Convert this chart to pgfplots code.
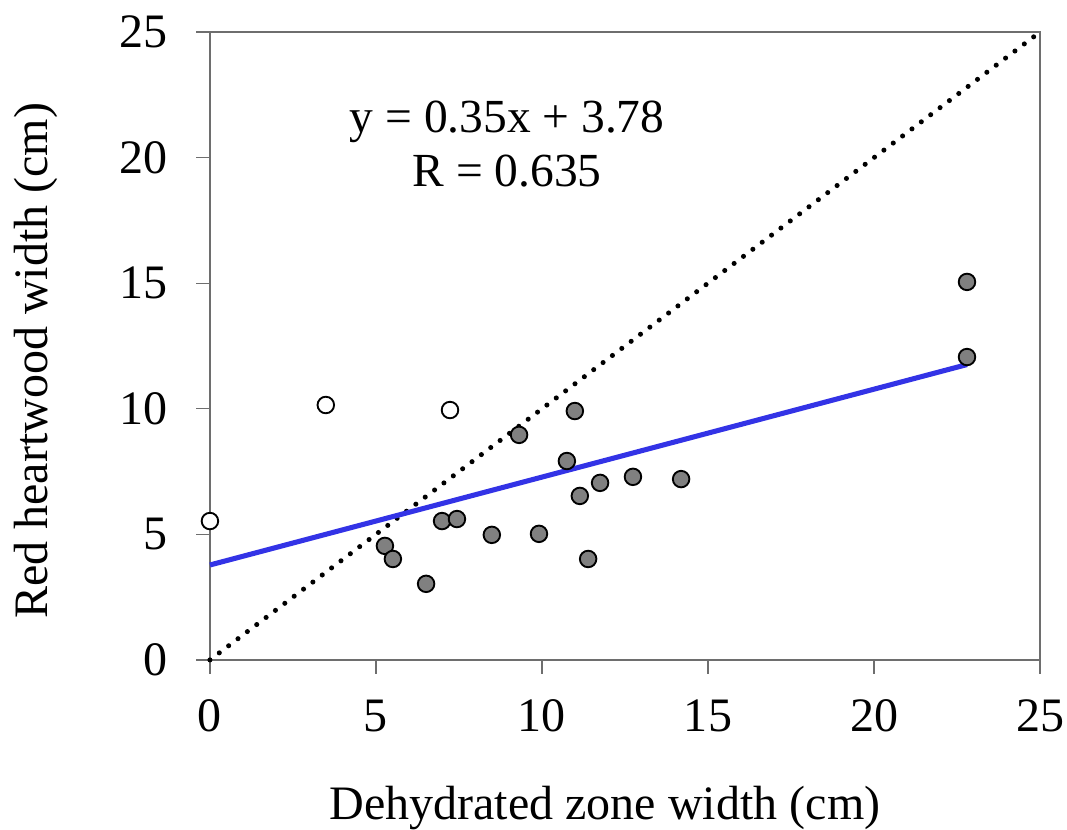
\documentclass[border=0pt]{standalone}
\usepackage{pgfplots}
\pgfplotsset{compat=1.18}
\usepackage{fontspec}
\setmainfont{Liberation Serif}
\definecolor{fitblue}{RGB}{51,51,230}
\definecolor{ptgrey}{RGB}{128,128,128}
\definecolor{axgrey}{RGB}{110,110,110}
\begin{document}
\begin{tikzpicture}
\path[use as bounding box] (-78.7pt,-63.7pt) rectangle (321.3pt,247.4pt);
\begin{axis}[
  at={(0,0)}, anchor=south west,
  scale only axis,
  width=311.2pt, height=235.4pt,
  xmin=0, xmax=25, ymin=0, ymax=25,
  xtick={0,5,...,25}, ytick={0,5,...,25},
  tick align=outside,
  xtick pos=bottom, ytick pos=left,
  major tick length=5.2pt,
  axis line style={axgrey, line width=0.5pt},
  every tick/.style={axgrey, line width=0.5pt},
  /pgf/number format/assume math mode=true,
  tick label style={font=\fontsize{18}{21.6}\selectfont},
  xticklabel style={anchor=base, yshift=-21.7pt},
  yticklabel style={anchor=east, xshift=-7.1pt},
  label style={font=\fontsize{18}{21.6}\selectfont},
  xlabel={Dehydrated zone width (cm)},
  ylabel={Red heartwood width (cm)},
  xlabel style={at={([xshift=-7.5pt,yshift=-60pt]axis description cs:0.5,0)}, anchor=base},
  ylabel style={at={([xshift=-61pt,yshift=-5.6pt]axis description cs:0,0.5)}, anchor=base},
  clip=false,
]
% 1:1 line
\addplot[black, line width=1.9pt, line cap=round, dash pattern=on 0pt off 4.4pt] coordinates {(0,0) (25,25)};
% regression line
\addplot[fitblue, line width=1.9pt] coordinates {(0,3.78) (22.8,11.76)};
% excluded (open) points
\addplot[only marks, mark=*, mark size=3.1pt, mark options={fill=white, draw=black, line width=0.7pt}] coordinates {
(0,5.53) (3.49,10.15) (7.23,9.95)
};
% filled points
\addplot[only marks, mark=*, mark size=3.1pt, mark options={fill=ptgrey, draw=black, line width=0.7pt}] coordinates {
(22.8,15.05) (22.8,12.06) (10.99,9.91) (9.31,8.96) (10.75,7.92)
(12.74,7.29) (14.19,7.20) (11.75,7.05) (11.14,6.53) (6.99,5.53)
(7.44,5.61) (5.27,4.54) (5.51,4.02) (8.49,4.98) (9.91,5.02)
(11.39,4.02) (6.51,3.03)
};
\node[anchor=base, font=\fontsize{17.8}{21}\selectfont] at (axis cs:8.95,20.98) {y = 0.35x + 3.78};
\node[anchor=base, font=\fontsize{17.8}{21}\selectfont] at (axis cs:8.95,18.83) {R = 0.635};
\end{axis}
\end{tikzpicture}
\end{document}
